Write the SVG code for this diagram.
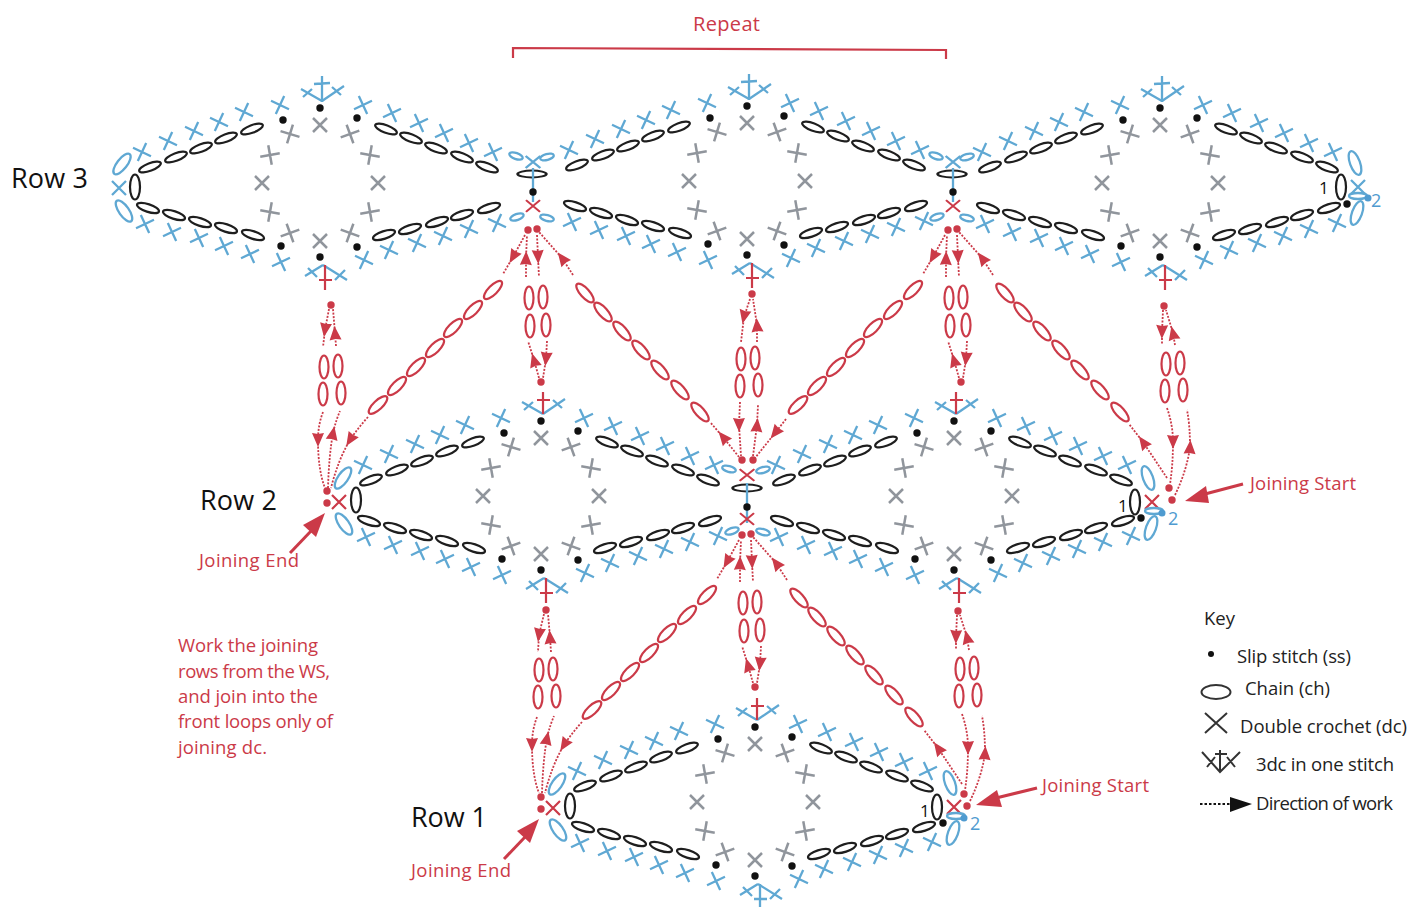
<svg xmlns="http://www.w3.org/2000/svg" width="1409" height="907" viewBox="0 0 1409 907">
<style>
.bk{fill:none;stroke:#1e1e1e;stroke-width:2.2}
.bl{fill:none;stroke:#5fa8d3;stroke-width:2.3}
.gr{fill:none;stroke:#90959c;stroke-width:2.5}
.rd{fill:none;stroke:#cb3a48;stroke-width:2.2}
.da{fill:none;stroke:#cb3a48;stroke-width:1.8;stroke-dasharray:2 1.5;marker-mid:url(#ar)}
.rf{fill:#cb3a48;stroke:none}
.kf{fill:#111;stroke:none}
.bf{fill:#4f9bd0;stroke:none}
.ky{fill:none;stroke:#333;stroke-width:2}
text{font-family:"Open Sans","Noto Sans",sans-serif}
.lr{fill:#cb3a48;font-size:18.5px}
.lk{fill:#222;font-size:18.5px}
.lw{fill:#111;font-size:27px}
</style>
<defs>
<marker id="ar" viewBox="-8 -7 16 14" refX="0" refY="0" markerWidth="16" markerHeight="14" markerUnits="userSpaceOnUse" orient="auto"><path d="M7,0L-7,-6L-6,0L-7,6Z" fill="#cb3a48"/></marker>
<path id="x" d="M-7,-7L7,7M-7,7L7,-7"/>
<ellipse id="c" rx="11.5" ry="3.8"/>
<ellipse id="r" rx="12" ry="4.5"/>
<ellipse id="v" rx="5" ry="12.5"/>
<ellipse id="s" rx="4.5" ry="11.5"/>
<ellipse id="h" rx="7" ry="3"/>
<g id="motif">
<g class="bk">
<use href="#c" transform="translate(150,167) rotate(-21)"/><use href="#c" transform="translate(176,157) rotate(-21)"/><use href="#c" transform="translate(201,148) rotate(-21)"/><use href="#c" transform="translate(226,138) rotate(-21)"/><use href="#c" transform="translate(252,129) rotate(-21)"/>
<use href="#c" transform="translate(386,129) rotate(21)"/><use href="#c" transform="translate(411,138) rotate(21)"/><use href="#c" transform="translate(436,148) rotate(21)"/><use href="#c" transform="translate(462,157) rotate(21)"/><use href="#c" transform="translate(487,167) rotate(21)"/>
<use href="#c" transform="translate(148,208) rotate(18)"/><use href="#c" transform="translate(174,215) rotate(18)"/><use href="#c" transform="translate(200,222) rotate(18)"/><use href="#c" transform="translate(226,228) rotate(18)"/><use href="#c" transform="translate(253,235) rotate(18)"/>
<use href="#c" transform="translate(384,235) rotate(-18)"/><use href="#c" transform="translate(410,229) rotate(-18)"/><use href="#c" transform="translate(437,222) rotate(-18)"/><use href="#c" transform="translate(462,215) rotate(-18)"/><use href="#c" transform="translate(489,208) rotate(-18)"/>
</g>
<g class="bl">
<use href="#x" transform="translate(280,105) rotate(-20)"/><use href="#x" transform="translate(244,112) rotate(-20)"/><use href="#x" transform="translate(219,122) rotate(-20)"/><use href="#x" transform="translate(194,131) rotate(-20)"/><use href="#x" transform="translate(168,141) rotate(-20)"/><use href="#x" transform="translate(142,152) rotate(-20)"/>
<use href="#x" transform="translate(363,105) rotate(20)"/><use href="#x" transform="translate(392,113) rotate(20)"/><use href="#x" transform="translate(419,123) rotate(20)"/><use href="#x" transform="translate(444,133) rotate(20)"/><use href="#x" transform="translate(469,143) rotate(20)"/><use href="#x" transform="translate(493,152) rotate(20)"/>
<use href="#x" transform="translate(145,224) rotate(20)"/><use href="#x" transform="translate(172,232) rotate(20)"/><use href="#x" transform="translate(199,238) rotate(20)"/><use href="#x" transform="translate(224,246) rotate(20)"/><use href="#x" transform="translate(250,254) rotate(20)"/><use href="#x" transform="translate(281,262) rotate(20)"/>
<use href="#x" transform="translate(364,260) rotate(-20)"/><use href="#x" transform="translate(389,250) rotate(-20)"/><use href="#x" transform="translate(417,243) rotate(-20)"/><use href="#x" transform="translate(443,236) rotate(-20)"/><use href="#x" transform="translate(469,229) rotate(-20)"/><use href="#x" transform="translate(497,223) rotate(-20)"/>
<path d="M322,101L301,89M303,97L312,89M322,101L344,86M332,87L341,95M323,265L305,276M308,268L317,277M323,265L347,280M345,270L335,280"/>
</g>
<g class="gr">
<use href="#x" transform="translate(320,125)"/><use href="#x" transform="translate(290,134) rotate(-28)"/><use href="#x" transform="translate(350,134) rotate(25)"/><use href="#x" transform="translate(270,155) rotate(-55)"/><use href="#x" transform="translate(370,155) rotate(55)"/><use href="#x" transform="translate(262,183)"/><use href="#x" transform="translate(378,183)"/><use href="#x" transform="translate(270,212) rotate(55)"/><use href="#x" transform="translate(370,212) rotate(-55)"/><use href="#x" transform="translate(290,233) rotate(25)"/><use href="#x" transform="translate(350,233) rotate(-25)"/><use href="#x" transform="translate(320,241)"/>
</g>
<g class="kf">
<circle cx="320" cy="108" r="3.7"/><circle cx="283" cy="120" r="3.7"/><circle cx="357" cy="118" r="3.7"/><circle cx="281" cy="246" r="3.7"/><circle cx="320" cy="257" r="3.7"/><circle cx="357" cy="247" r="3.7"/>
</g>
</g>
<path id="stemTopRed" class="rd" d="M322,101L322,79M316,87L329,87"/>
<path id="stemBotRed" class="rd" d="M325,265L325,290M319,280L332,280"/>
<path id="stemTopBlue" class="bl" d="M322,102L322,76M314,84L330,83"/>
<path id="stemBotBlue" class="bl" d="M325,265L325,290M319,280L332,280"/>
<g id="endLeftJoin">
<g class="rf"><circle cx="327" cy="491" r="3.7"/><circle cx="327" cy="503" r="3.7"/></g>
<use href="#x" class="rd" transform="translate(339,502)"/>
<use href="#v" class="bk" transform="translate(356,500)"/>
<use href="#v" class="bl" transform="translate(343,478) rotate(35)"/>
<use href="#v" class="bl" transform="translate(344,524) rotate(-35)"/>
</g>
<g id="arrowsLeft">
<path class="da" d="M323,412Q318,425 318,440Q318,470 325,488"/>
<path class="da" d="M328,488Q329,455 333,433Q336,420 340,411"/>
<path class="da" d="M368,417Q358,428 350,440Q338,460 331,488"/>
</g>
<g id="bigArrow"><path class="rd" d="M290,553L312,530" style="stroke-width:3"/><path class="rf" d="M325,513L303,525L316,537Z"/></g>
<g id="arrowsRight">
<path class="da" d="M1167,408Q1173,425 1173,442Q1173,465 1170,484"/>
<path class="da" d="M1175,495Q1187,470 1190,447Q1190,425 1187,410"/>
<path class="da" d="M1167,478L1143,442L1129,424"/>
<g class="rf"><circle cx="1169" cy="488" r="3.7"/><circle cx="1172" cy="500" r="3.7"/></g>
</g>
<g id="endRightJoin">
<use href="#x" class="rd" transform="translate(1152,502)"/>
<use href="#v" class="bk" transform="translate(1135,502)"/>
<use href="#v" class="bl" transform="translate(1148,478) rotate(-20)"/>
<use href="#v" class="bl" transform="translate(1151,528) rotate(20)"/>
<ellipse class="bl" cx="1154" cy="511" rx="9" ry="3"/>
<circle class="bf" cx="1162" cy="513" r="3.5"/>
<circle class="kf" cx="1141" cy="518" r="3.7"/>
<text x="1118" y="512" style="fill:#111;font-size:17px">1</text>
<text x="1168" y="525" style="fill:#4f9bd0;font-size:18px">2</text>
</g>
<g id="jTopBlueX">
<use href="#c" class="bk" transform="translate(532,174) scale(1.25,.9)"/>
<use href="#x" class="bl" transform="translate(533,162) scale(1.05,.85)"/>
<use href="#h" class="bl" transform="translate(516,156) rotate(20)"/>
<use href="#h" class="bl" transform="translate(547,157) rotate(-15)"/>
<path class="bl" d="M533,168L533,202"/>
<circle class="kf" cx="533" cy="192" r="3.7"/>
<use href="#x" class="rd" transform="translate(533,206) scale(1,.85)"/>
<use href="#h" class="bl" transform="translate(517,217) rotate(-20)"/>
<use href="#h" class="bl" transform="translate(547,218) rotate(15)"/>
</g>
<g id="jRedX">
<use href="#c" class="bk" transform="translate(747,488) scale(1.25,.9)"/>
<use href="#x" class="rd" transform="translate(747,475) scale(1.05,.85)"/>
<use href="#h" class="bl" transform="translate(729,469) rotate(15)"/>
<use href="#h" class="bl" transform="translate(763,470) rotate(-15)"/>
<path class="bl" d="M747,483L747,523"/>
<circle class="kf" cx="747" cy="507" r="3.7"/>
<use href="#x" class="rd" transform="translate(747,519) scale(1,.85)"/>
<use href="#h" class="bl" transform="translate(732,531) rotate(-20)"/>
<use href="#h" class="bl" transform="translate(763,532) rotate(15)"/>
</g>
<g id="unit">
<g class="rf"><circle cx="528" cy="230" r="3.7"/><circle cx="537" cy="229" r="3.7"/><circle cx="541" cy="382" r="3.7"/></g>
<path class="da" d="M525,235L513,257L503,274"/>
<path class="da" d="M526,277L526,258L527,235"/>
<path class="da" d="M537,235L538,257L539,277"/>
<path class="da" d="M573,275L562,258L539,232"/>
<path class="da" d="M539,378L534,360L528,341"/>
<path class="da" d="M547,341L546,359L543,378"/>
<g class="rd">
<use href="#r" transform="translate(493,290) rotate(-45)"/><use href="#r" transform="translate(473,310) rotate(-45)"/><use href="#r" transform="translate(453,328) rotate(-45)"/><use href="#r" transform="translate(435,348) rotate(-45)"/><use href="#r" transform="translate(416,367) rotate(-45)"/><use href="#r" transform="translate(397,386) rotate(-45)"/><use href="#r" transform="translate(378,405) rotate(-43)"/>
<use href="#r" transform="translate(585,293) rotate(48)"/><use href="#r" transform="translate(603,312) rotate(48)"/><use href="#r" transform="translate(622,331) rotate(48)"/><use href="#r" transform="translate(641,350) rotate(48)"/><use href="#r" transform="translate(660,370) rotate(48)"/><use href="#r" transform="translate(680,390) rotate(48)"/><use href="#r" transform="translate(700,412) rotate(48)"/>
<use href="#s" x="529" y="298"/><use href="#s" x="543" y="297"/><use href="#s" x="530" y="326"/><use href="#s" x="546" y="325"/>
</g>
</g>
<g id="colOv" class="rd">
<use href="#s" x="324" y="367"/><use href="#s" x="338" y="366"/><use href="#s" x="323" y="394"/><use href="#s" x="341" y="393"/>
</g>
</defs>

<g id="row3-motif-1"><use href="#motif"/><use href="#stemTopBlue"/><use href="#stemBotRed"/>
<use href="#x" class="bl" transform="translate(119,188)"/>
<use href="#v" class="bk" transform="translate(135,187)"/>
<use href="#v" class="bl" transform="translate(122,164) rotate(38)"/>
<use href="#v" class="bl" transform="translate(124,211) rotate(-35)"/>
</g>
<g id="row3-motif-2" transform="translate(427,-2)"><use href="#motif"/><use href="#stemTopBlue"/><use href="#stemBotRed"/></g>
<g id="row3-motif-3" transform="translate(840,0)"><use href="#motif"/><use href="#stemTopBlue"/><use href="#stemBotRed"/></g>
<g id="row3-junction-1"><use href="#jTopBlueX"/></g>
<g id="row3-junction-2" transform="translate(420,0)"><use href="#jTopBlueX"/></g>
<g id="row3-right-end">
<use href="#v" class="bk" transform="translate(1341,187)"/>
<use href="#v" class="bl" transform="translate(1355,163) rotate(-20)"/>
<use href="#x" class="bl" transform="translate(1358,187)"/>
<ellipse class="bl" cx="1358" cy="196" rx="9" ry="3"/>
<circle class="bf" cx="1368" cy="198" r="3.5"/>
<use href="#v" class="bl" transform="translate(1357,213) rotate(20)"/>
<circle class="kf" cx="1347" cy="204" r="3.7"/>
<text x="1319" y="194" style="fill:#111;font-size:17px">1</text>
<text x="1371" y="207" style="fill:#4f9bd0;font-size:18px">2</text>
</g>

<g id="row2-motif-1" transform="translate(221,313)"><use href="#motif"/><use href="#stemTopRed"/><use href="#stemBotRed"/></g>
<g id="row2-motif-2" transform="translate(634,313)"><use href="#motif"/><use href="#stemTopRed"/><use href="#stemBotRed"/></g>
<g id="row2-junction"><use href="#jRedX"/><g class="rf"><circle cx="742" cy="460" r="3.7"/><circle cx="753" cy="460" r="3.7"/></g></g>
<g id="row2-left-end"><use href="#endLeftJoin"/></g>
<g id="row2-right-end"><use href="#endRightJoin"/></g>

<g id="row1-motif" transform="translate(435,619)"><use href="#motif"/><use href="#stemTopRed"/><use href="#stemBotBlue"/></g>
<g id="row1-left-end" transform="translate(214,306)"><use href="#endLeftJoin"/></g>
<g id="row1-right-end" transform="translate(-198,305)"><use href="#endRightJoin"/></g>

<g id="connectors">
<use href="#unit"/>
<use href="#unit" transform="translate(420,0)"/>
<use href="#unit" transform="translate(214,305)"/>
<use href="#arrowsLeft"/>
<use href="#arrowsLeft" transform="translate(214,305)"/>
<use href="#arrowsRight"/>
<use href="#arrowsRight" transform="translate(-205,306)"/>
<path class="da" d="M739,457L723,437L710,422"/>
<path class="da" d="M786,419L775,433L755,458"/>
<use href="#colOv"/>
<circle class="rf" cx="331" cy="305" r="3.7"/>
<path class="da" d="M329,309L325,330L323,347"/>
<path class="da" d="M336,346L335,333L333,309"/>
<use href="#colOv" transform="translate(417,-8)"/>
<circle class="rf" cx="752" cy="294" r="3.7"/>
<path class="da" d="M750,299L744,317L741,342"/>
<path class="da" d="M757,342L757,325L753,299"/>
<path class="da" d="M740,402L739,425L741,456"/>
<path class="da" d="M753,456L757,425L758,405"/>
<use href="#colOv" transform="translate(842,-3)"/>
<circle class="rf" cx="1164" cy="306" r="3.7"/>
<path class="da" d="M1163,310L1162,332L1162,345"/>
<path class="da" d="M1175,345L1173,333L1166,310"/>
<use href="#colOv" transform="translate(215,303)"/>
<circle class="rf" cx="546" cy="610" r="3.7"/>
<path class="da" d="M544,614L539,635L538,652"/>
<path class="da" d="M551,652L550,637L548,614"/>
<use href="#colOv" transform="translate(636,302)"/>
<circle class="rf" cx="958" cy="611" r="3.7"/>
<path class="da" d="M957,615L956,637L956,650"/>
<path class="da" d="M969,650L967,637L960,615"/>
<use href="#bigArrow"/>
<use href="#bigArrow" transform="translate(214,306)"/>
<path class="rd" style="stroke-width:3" d="M1243,484L1205,494"/><path class="rf" d="M1185,501L1206,486L1209,503Z"/>
<path class="rd" style="stroke-width:3" d="M1037,788L996,798"/><path class="rf" d="M976,805L997,790L1002,807Z"/>
</g>

<g id="labels">
<text x="693" y="31" class="lr" style="font-size:20px" textLength="67">Repeat</text>
<path class="rd" d="M513,58L513,48L946,50L946,59"/>
<text x="11" y="188" class="lw" textLength="77">Row 3</text>
<text x="200" y="510" class="lw" textLength="77">Row 2</text>
<text x="411" y="827" class="lw" textLength="76">Row 1</text>
<text x="199" y="567" class="lr" textLength="100">Joining End</text>
<text x="411" y="877" class="lr" textLength="100">Joining End</text>
<text x="1250" y="490" class="lr" textLength="106">Joining Start</text>
<text x="1042" y="792" class="lr" textLength="107">Joining Start</text>
<text x="178" y="652" class="lr" textLength="140">Work the joining</text>
<text x="178" y="678" class="lr" textLength="152">rows from the WS,</text>
<text x="178" y="703" class="lr" textLength="140">and join into the</text>
<text x="178" y="728" class="lr" textLength="155">front loops only of</text>
<text x="178" y="754" class="lr" textLength="89">joining dc.</text>
</g>

<g id="key">
<text x="1204" y="625" class="lk" textLength="31">Key</text>
<circle cx="1211" cy="654" r="3" class="kf"/>
<text x="1237" y="663" class="lk" textLength="114">Slip stitch (ss)</text>
<ellipse cx="1216" cy="692" rx="14.5" ry="7" class="ky"/>
<text x="1245" y="695" class="lk" textLength="85">Chain (ch)</text>
<path class="ky" d="M1205,713L1227,733M1205,733L1227,713"/>
<text x="1240" y="733" class="lk" textLength="167">Double crochet (dc)</text>
<path class="ky" d="M1202,752L1220,772L1240,752M1220,750L1220,772M1215,754L1227,754M1207,767L1215,757M1227,757L1235,767"/>
<text x="1256" y="771" class="lk" textLength="138">3dc in one stitch</text>
<path d="M1200,804L1230,804" stroke="#111" stroke-width="2.2" stroke-dasharray="2.5 2" fill="none"/>
<path class="kf" d="M1230,797L1252,804L1230,812Z"/>
<text x="1256" y="810" class="lk" textLength="137">Direction of work</text>
</g>
</svg>
